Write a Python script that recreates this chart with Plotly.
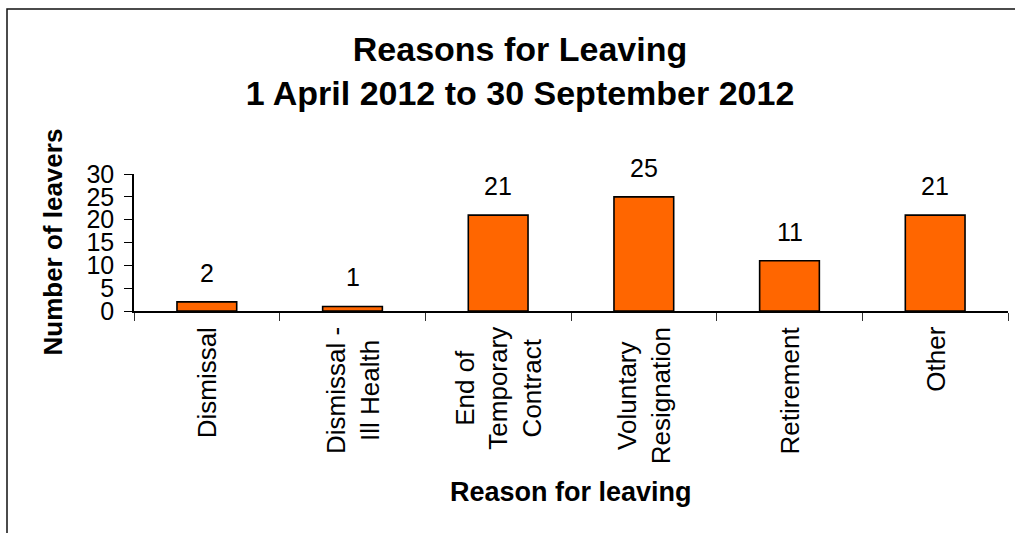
import plotly.graph_objects as go

# Leavers by reason, 1 April 2012 - 30 September 2012
categories = ["Dismissal", "Dismissal - Ill Health", "End of Temporary Contract",
              "Voluntary Resignation", "Retirement", "Other"]
category_labels = ["Dismissal", "Dismissal -<br>Ill Health", "End of<br>Temporary<br>Contract",
                   "Voluntary<br>Resignation", "Retirement", "Other"]
leavers = [2, 1, 21, 25, 11, 21]
y_ticks = [0, 5, 10, 15, 20, 25, 30]

FONT = "Liberation Sans, Arial, sans-serif"
W, H = 1015, 533
M_L, M_R, M_T, M_B = 134, 7, 174, 222
plot_w = W - M_L - M_R
plot_h = H - M_T - M_B

fig = go.Figure()
fig.add_trace(go.Bar(
    x=categories,
    y=leavers,
    width=0.41,
    marker=dict(color="#FF6600", line=dict(color="#000000", width=1.6)),
    hoverinfo="x+y",
))

annotations = []
# value labels above each bar
for cat, val in zip(categories, leavers):
    annotations.append(dict(
        x=cat, y=val, xref="x", yref="y", text=str(val), showarrow=False,
        yanchor="middle", yshift=29, font=dict(family=FONT, size=25, color="#000000"),
    ))
# rotated category labels under the axis
for cat, lab in zip(categories, category_labels):
    annotations.append(dict(
        x=cat, y=0, xref="x", yref="paper", text=lab, showarrow=False,
        textangle=-90, align="center", xanchor="center", yanchor="top", yshift=-14,
        font=dict(family=FONT, size=26, color="#000000"),
    ))
# axis titles
annotations.append(dict(
    x=0.5, y=(311 - 492) / plot_h, xref="paper", yref="paper", text="<b>Reason for leaving</b>",
    showarrow=False, xanchor="center", yanchor="middle",
    font=dict(family=FONT, size=27, color="#000000"),
))
annotations.append(dict(
    x=(52 - M_L) / plot_w, y=0.5, xref="paper", yref="paper", text="<b>Number of leavers</b>",
    showarrow=False, xanchor="center", yanchor="middle", textangle=-90,
    font=dict(family=FONT, size=26, color="#000000"),
))

fig.update_layout(
    width=W, height=H,
    margin=dict(l=M_L, r=M_R, t=M_T, b=M_B, pad=0),
    paper_bgcolor="#FFFFFF", plot_bgcolor="#FFFFFF",
    showlegend=False,
    bargap=0.59,
    title=dict(
        text="<b>Reasons for Leaving<br>1 April 2012 to 30 September 2012</b>",
        x=520 / W, xref="container", xanchor="center",
        y=1 - 61 / H, yref="container", yanchor="middle",
        font=dict(family=FONT, size=34, color="#000000"),
    ),
    xaxis=dict(
        type="category", categoryorder="array", categoryarray=categories,
        showticklabels=False, tickson="boundaries", ticks="outside", ticklen=8,
        tickcolor="#333333", tickwidth=1.2,
        showline=True, linecolor="#000000", linewidth=1.5, showgrid=False, zeroline=False,
    ),
    yaxis=dict(
        range=[0, 30], tickvals=y_ticks, ticks="outside", ticklen=8,
        tickcolor="#000000", tickwidth=1.2, ticklabelstandoff=5,
        tickfont=dict(family=FONT, size=25, color="#000000"),
        showline=True, linecolor="#000000", linewidth=1.5, showgrid=False, zeroline=False,
    ),
    annotations=annotations,
    shapes=[dict(
        type="rect", xref="paper", yref="paper",
        x0=(7 - M_L) / plot_w, x1=(W + 20 - M_L) / plot_w,
        y0=(311 - (H + 20)) / plot_h, y1=(311 - 9) / plot_h,
        line=dict(color="#111111", width=1.5), fillcolor="rgba(0,0,0,0)", layer="below",
    )],
)

fig.write_html("out.html")
